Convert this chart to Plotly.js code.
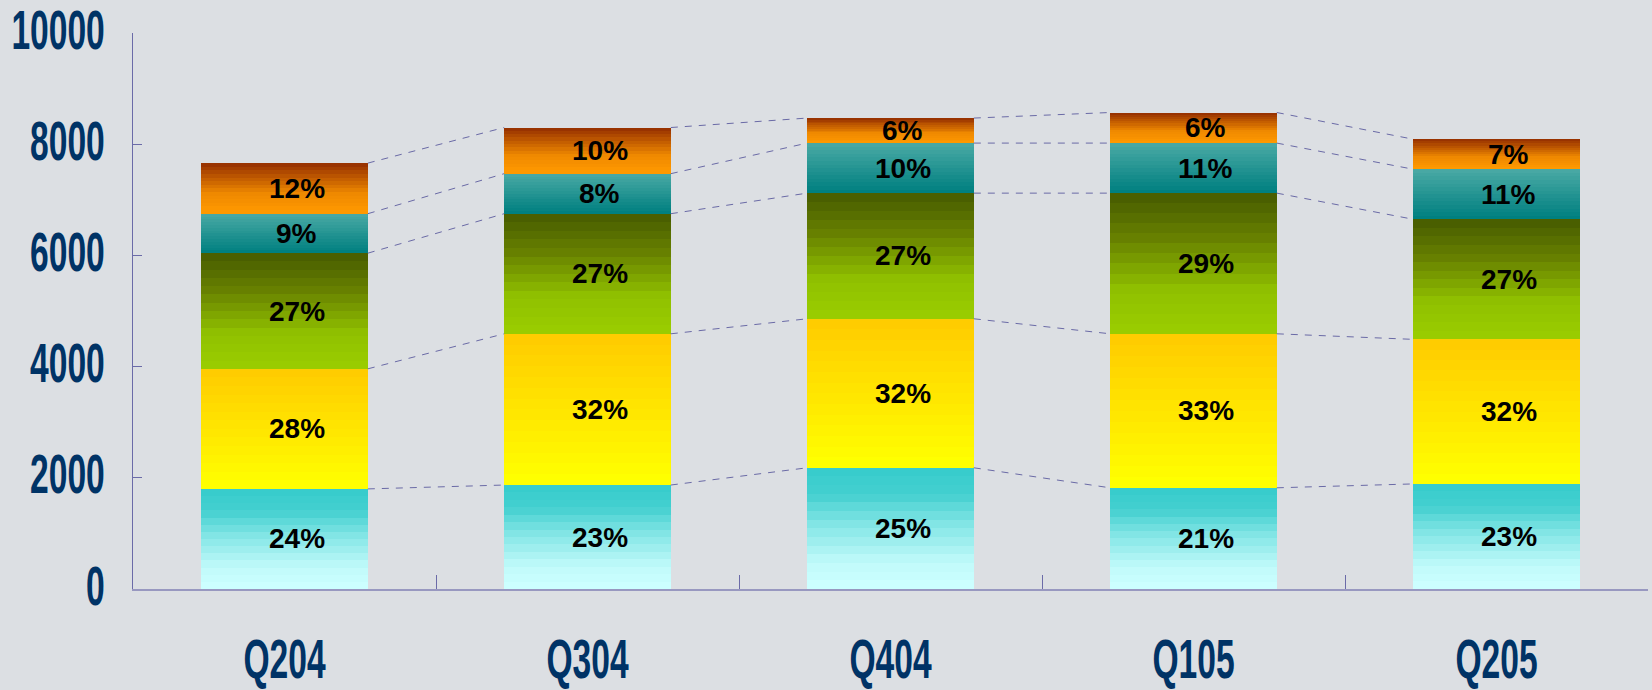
<!DOCTYPE html>
<html>
<head>
<meta charset="utf-8">
<script src="https://cdn.plot.ly/plotly-3.0.1.min.js"></script>
<style>
  html, body { margin: 0; padding: 0; background: #dcdfe3; }
  #chart { width: 1652px; height: 690px; }
</style>
</head>
<body>
<div id="chart"></div>
<script>
// Quarters on the x axis
var quarters = ["Q204", "Q304", "Q404", "Q105", "Q205"];

// Segment values, bottom to top
var cyanVals   = [1800, 1870, 2180, 1820, 1890];
var yellowVals = [2160, 2720, 2680, 2770, 2600];
var greenVals  = [2080, 2160, 2260, 2530, 2160];
var tealVals   = [710, 720, 900, 900, 900];
var orangeVals = [910, 830, 450, 550, 540];

// Percent labels shown in each segment
var cyanPct   = ["24%", "23%", "25%", "21%", "23%"];
var yellowPct = ["28%", "32%", "32%", "33%", "32%"];
var greenPct  = ["27%", "27%", "27%", "29%", "27%"];
var tealPct   = ["9%", "8%", "10%", "11%", "11%"];
var orangePct = ["12%", "10%", "6%", "6%", "7%"];

// gradient stops, 0 = bottom of segment, 1 = top
var series = [
  {vals: cyanVals, pct: cyanPct,
   stops: [[0, "#ccffff"], [0.2, "#c0fafa"], [0.55, "#80e4e4"], [0.8, "#44d0d0"], [1, "#38cccc"]]},
  {vals: yellowVals, pct: yellowPct,
   stops: [[0, "#ffff00"], [1, "#ffcc00"]]},
  {vals: greenVals, pct: greenPct,
   stops: [[0, "#99cc00"], [0.3, "#90c000"], [0.7, "#667f00"], [1, "#4a5f00"]]},
  {vals: tealVals, pct: tealPct,
   stops: [[0, "#008080"], [1, "#48a8a4"]]},
  {vals: orangeVals, pct: orangePct,
   stops: [[0, "#ff9900"], [0.4, "#ee8800"], [1, "#993300"]]}
];

var BAR_W = 0.55;
var SLICES = 14;
var axisFont = {family: "Liberation Sans, Arial, sans-serif", size: 56, color: "#003366", weight: "bold"};

function hex2rgb(h) {
  return [parseInt(h.substr(1, 2), 16), parseInt(h.substr(3, 2), 16), parseInt(h.substr(5, 2), 16)];
}

function colorAt(stops, t) {
  for (var i = 1; i < stops.length; i++) {
    if (t <= stops[i][0]) {
      var a = hex2rgb(stops[i - 1][1]), b = hex2rgb(stops[i][1]);
      var f = (t - stops[i - 1][0]) / (stops[i][0] - stops[i - 1][0]);
      return "rgb(" + a.map(function(c, j) { return Math.round(c + (b[j] - c) * f); }).join(",") + ")";
    }
  }
  return stops[stops.length - 1][1];
}

// each segment is stacked as thin slices to get the banded gradient
var traces = [];
series.forEach(function(s) {
  for (var k = 0; k < SLICES; k++) {
    traces.push({
      type: "bar",
      x: quarters,
      y: s.vals.map(function(v) { return v / SLICES; }),
      width: BAR_W,
      marker: {color: colorAt(s.stops, k / (SLICES - 1)), line: {width: 0}},
      hoverinfo: "skip",
      showlegend: false
    });
  }
});

// cumulative tops for labels and connectors
var cum = quarters.map(function() { return 0; });
var annotations = [];
var shapes = [];
series.forEach(function(s) {
  var bottoms = cum.slice();
  cum = cum.map(function(c, i) { return c + s.vals[i]; });
  for (var i = 0; i < quarters.length; i++) {
    annotations.push({
      x: i, y: bottoms[i] + s.vals[i] / 2,
      xref: "x", yref: "y",
      text: s.pct[i], showarrow: false, xshift: 12,
      font: {family: "Liberation Sans, Arial, sans-serif", size: 28, color: "#000000", weight: "bold"}
    });
    if (i < quarters.length - 1) {
      shapes.push({
        type: "line", xref: "x", yref: "y",
        x0: i + BAR_W / 2, y0: cum[i],
        x1: i + 1 - BAR_W / 2, y1: cum[i + 1],
        line: {color: "#6a6aa6", width: 1, dash: "7px,7px"}
      });
    }
  }
});

var layout = {
  width: 1652,
  height: 690,
  paper_bgcolor: "#dcdfe3",
  plot_bgcolor: "#dcdfe3",
  margin: {l: 133, r: 4, t: 33, b: 101},
  barmode: "stack",
  showlegend: false,
  xaxis: {
    type: "category",
    range: [-0.5, 4.5],
    showline: true, linecolor: "#9898c0", linewidth: 2,
    ticks: "inside", tickson: "boundaries", ticklen: 14, tickwidth: 1, tickcolor: "#6b6ba8",
    tickfont: axisFont,
    ticklabelstandoff: 20,
    showgrid: false, zeroline: false
  },
  yaxis: {
    range: [0, 10000], dtick: 2000, tickformat: "d",
    showline: true, linecolor: "#6b6ba8", linewidth: 1,
    ticks: "inside", ticklen: 9, tickwidth: 1, tickcolor: "#6b6ba8",
    tickfont: axisFont,
    ticklabelstandoff: 16, ticklabelshift: -4, ticklabeloverflow: "allow",
    showgrid: false, zeroline: false
  },
  annotations: annotations,
  shapes: shapes
};

// the axis labels in the original are a narrow face, squeeze them sideways
function squeezeTicks(gd) {
  gd.querySelectorAll(".xtick text, .ytick text").forEach(function(t) {
    var w = t.getComputedTextLength();
    t.setAttribute("textLength", (w * 0.6).toFixed(1));
    t.setAttribute("lengthAdjust", "spacingAndGlyphs");
  });
}

Plotly.newPlot("chart", traces, layout, {displayModeBar: false, staticPlot: true}).then(squeezeTicks);
</script>
</body>
</html>
